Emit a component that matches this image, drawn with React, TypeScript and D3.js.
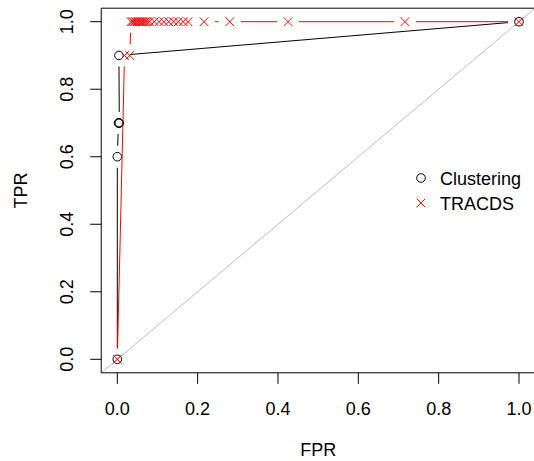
import * as d3 from "d3";
import React from "react";

// ROC points
const clusteringFPR = [0, 0.0, 0.003, 0.004, 0.005, 0.004, 1];
const clusteringTPR = [0, 0.6, 0.7, 0.7, 0.7, 0.9, 1];

const tracdsFPR = [0, 0.018, 0.031, 0.034, 0.038, 0.042, 0.046, 0.05, 0.054, 0.058, 0.062, 0.066, 0.07, 0.074, 0.08, 0.092, 0.104, 0.116, 0.128, 0.14, 0.152, 0.164, 0.176, 0.216, 0.28, 0.425, 0.716, 1];
const tracdsTPR = [0, 0.9, 0.9, 1, 1, 1, 1, 1, 1, 1, 1, 1, 1, 1, 1, 1, 1, 1, 1, 1, 1, 1, 1, 1, 1, 1, 1, 1];

const ticks = [0, 0.2, 0.4, 0.6, 0.8, 1.0];
const legendLabels = ["Clustering", "TRACDS"];

const W = 534;
const H = 461;
const font = "'Liberation Sans', Arial, Helvetica, sans-serif";
const GAP = 11; // R type="b" leaves a gap round each point

const x = d3.scaleLinear().domain([0, 1]).range([117.3, 519]);
const y = d3.scaleLinear().domain([0, 1]).range([359.3, 21.7]);

const left = x(-0.04), right = x(1.04), top = y(1.04), bottom = y(-0.04);

function gappedSegments(xs: number[], ys: number[]) {
    const segs: string[] = [];
    for (let i = 0; i < xs.length - 1; i++) {
        const x0 = x(xs[i]), y0 = y(ys[i]), x1 = x(xs[i + 1]), y1 = y(ys[i + 1]);
        const len = Math.hypot(x1 - x0, y1 - y0);
        if (len <= 2 * GAP) continue;
        const ux = (x1 - x0) / len, uy = (y1 - y0) / len;
        segs.push(`M${x0 + ux * GAP},${y0 + uy * GAP}L${x1 - ux * GAP},${y1 - uy * GAP}`);
    }
    return segs.join("");
}

const Cross = ({ cx, cy, color }: { cx: number; cy: number; color: string }) => {
    const s = 4.3;
    return <path d={`M${cx - s},${cy - s}L${cx + s},${cy + s}M${cx - s},${cy + s}L${cx + s},${cy - s}`} stroke={color} strokeWidth={1} fill="none" />;
};

export default function App() {
    return (
        <svg width={W} height={H} style={{ position: "absolute", left: 0, top: 0, background: "#fff" }} fontFamily={font}>
            <defs>
                <clipPath id="plotClip">
                    <rect x={left} y={top} width={right - left} height={bottom - top} />
                </clipPath>
            </defs>
            <rect width={W} height={H} fill="#fff" />

            {/* diagonal reference line */}
            <line x1={left} y1={bottom} x2={right} y2={top} stroke="#BEBEBE" strokeWidth={1} clipPath="url(#plotClip)" />

            {/* clustering */}
            <path d={gappedSegments(clusteringFPR, clusteringTPR)} stroke="#000" strokeWidth={1} fill="none" />
            {clusteringFPR.map((f, i) => (
                <circle key={"c" + i} cx={x(f)} cy={y(clusteringTPR[i])} r={4.3} stroke="#000" strokeWidth={1} fill="none" />
            ))}

            {/* tracds */}
            <path d={gappedSegments(tracdsFPR, tracdsTPR)} stroke="#FF0000" strokeWidth={1} fill="none" />
            {tracdsFPR.map((f, i) => (
                <Cross key={"t" + i} cx={x(f)} cy={y(tracdsTPR[i])} color="#FF0000" />
            ))}

            {/* box */}
            <path d={`M${right},${top}H${left}V${bottom}H${right}`} stroke="#000" strokeWidth={1} fill="none" />

            {/* x axis */}
            {ticks.map(t => (
                <g key={"x" + t}>
                    <line x1={x(t)} x2={x(t)} y1={bottom} y2={bottom + 11} stroke="#000" />
                    <text x={x(t)} y={414.5} textAnchor="middle" fontSize={18}>{t.toFixed(1)}</text>
                </g>
            ))}
            {/* y axis */}
            {ticks.map(t => (
                <g key={"y" + t}>
                    <line x1={left} x2={left - 11} y1={y(t)} y2={y(t)} stroke="#000" />
                    <text transform={`translate(72.5,${y(t)}) rotate(-90)`} textAnchor="middle" fontSize={18}>{t.toFixed(1)}</text>
                </g>
            ))}

            <text x={(left + right) / 2} y={456} textAnchor="middle" fontSize={18}>FPR</text>
            <text transform={`translate(27,${(top + bottom) / 2}) rotate(-90)`} textAnchor="middle" fontSize={18}>TPR</text>

            {/* legend */}
            <circle cx={421} cy={178} r={4.3} stroke="#000" strokeWidth={1} fill="none" />
            <Cross cx={421} cy={203} color="#FF0000" />
            {legendLabels.map((l, i) => (
                <text key={l} x={440} y={184.5 + i * 25} fontSize={18}>{l}</text>
            ))}
        </svg>
    );
}
